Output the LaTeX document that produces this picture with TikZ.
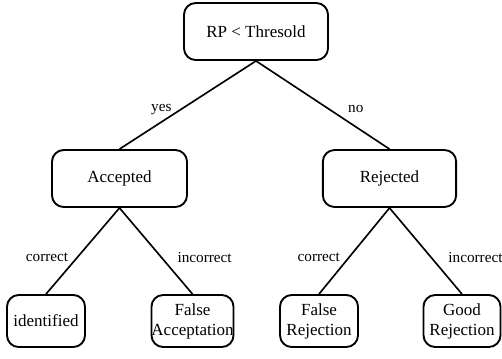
\documentclass[tikz,border=0pt]{standalone}
\usepackage{fontspec}
\setmainfont{Liberation Serif}

\begin{document}
\begin{tikzpicture}[x=0.03cm, y=-0.03cm,
        box/.style={draw, rounded corners=10pt, line width=1.6pt, fill=white, align=center, inner sep=0pt, font=\fontsize{14.5}{17}\selectfont},
        lbl/.style={font=\fontsize{13}{15}\selectfont}]
        \useasboundingbox (0,0) rectangle (502,358);
        % Draw nodes
        \node[box, minimum width=4.32cm, minimum height=1.71cm] (root) at (256,31.5) {RP < Thresold};
        \node[box, minimum width=4.05cm, minimum height=1.71cm] (acc) at (119.5,178.5) {Accepted};
        \node[box, minimum width=4.0cm, minimum height=1.71cm] (rej) at (389.5,178.5) {Rejected};
        \node[box, minimum width=2.34cm, minimum height=1.56cm] (ident) at (46,321) {identified};
        \node[box, minimum width=2.37cm, minimum height=1.56cm] (fa) at (192.5,321) {False\\Acceptation};
        \node[box, minimum width=2.34cm, minimum height=1.56cm] (fr) at (319,321) {False\\Rejection};
        \node[box, minimum width=2.31cm, minimum height=1.56cm] (gr) at (462,321) {Good\\Rejection};

        % Draw connections
        \draw[line width=1.4pt] (root.south) -- (acc.north) node[lbl, pos=0.55, left=4pt] {yes};
        \draw[line width=1.4pt] (root.south) -- (rej.north) node[lbl, pos=0.55, right=12pt] {no};
        \draw[line width=1.4pt] (acc.south) -- (ident.north) node[lbl, pos=0.57, left=4pt] {correct};
        \draw[line width=1.4pt] (acc.south) -- (fa.north) node[lbl, pos=0.57, right=10pt] {incorrect};
        \draw[line width=1.4pt] (rej.south) -- (fr.north) node[lbl, pos=0.57, left=4pt] {correct};
        \draw[line width=1.4pt] (rej.south) -- (gr.north) node[lbl, pos=0.57, right=11pt] {incorrect};
    \end{tikzpicture}
\end{document}
